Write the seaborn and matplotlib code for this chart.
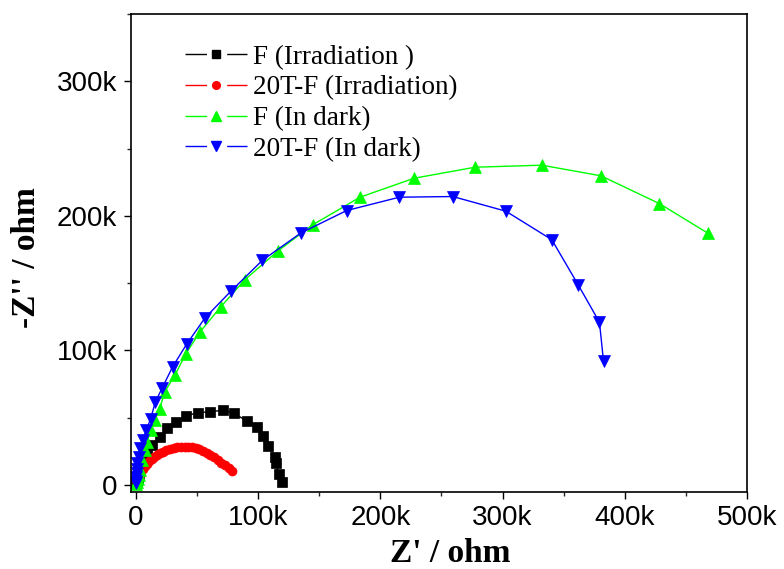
import matplotlib
matplotlib.use("Agg")
import matplotlib.pyplot as plt
from matplotlib.lines import Line2D
from matplotlib.ticker import FuncFormatter, MultipleLocator
import seaborn as sns
import numpy as np

# Data (k-ohm)
f_irr_x = [0.3, 0.8, 1.5, 2.5, 3.5, 4.5, 5.8, 7.1, 9.3, 13.1, 19.4, 25.6, 33.0, 41.2, 50.8, 60.6,
           71.5, 80.5, 90.6, 98.8, 103.7, 108.3, 113.8, 114.6, 116.8, 119.3]
f_irr_y = [0.5, 2.5, 5.0, 8.0, 11.0, 14.0, 17.5, 21.3, 24.5, 29.4, 35.6, 41.9, 46.8, 51.2, 53.7, 54.2,
           55.5, 53.0, 47.5, 43.1, 36.4, 29.0, 20.8, 15.9, 7.7, 2.2]

t20_irr_x = [0.5, 1, 1.5, 2.5, 3.5, 4.5, 6, 7.5, 9, 11, 13, 15, 17.5, 20, 22.5, 25, 28, 31, 34, 37,
             40, 43, 46, 49, 52, 55, 58, 61, 64, 67, 70, 73, 76, 79]
t20_irr_y = [0.5, 2, 4, 6, 8, 10, 12, 14, 15.5, 17.5, 19, 20.5, 22, 23.5, 24.5, 25.5, 26.5, 27.3,
             27.8, 28.2, 28.3, 28.2, 27.8, 27.2, 26.3, 25.2, 23.8, 22.2, 20.5, 18.5, 16.5, 14.5,
             12.5, 10.5]

f_dark_x = [0.3, 0.8, 1.6, 2.2, 3.0, 4.9, 7.1, 9.3, 12.0, 15.3, 19.4, 23.5, 31.9, 40.9, 52.4, 69.3,
            89.2, 116.0, 144.7, 183.4, 227.6, 277.6, 332.2, 380.5, 428.2, 468.3]
f_dark_y = [0.5, 2, 4, 7, 10.9, 18.3, 25.8, 31.9, 40.6, 48.0, 56.2, 69.0, 81.4, 97.5, 113.6, 132.1,
            152.5, 173.7, 193.3, 213.8, 227.9, 236.1, 237.6, 229.7, 209.1, 186.9]

t20_dark_x = [0.1, 0.2, 0.3, 0.5, 0.8, 1.3, 2.2, 3.6, 5.7, 8.4, 12.0, 15.8, 21.5, 30.0, 41.5, 56.5,
              77.8, 103.4, 134.8, 172.5, 215.6, 259.3, 302.7, 340.3, 362.1, 379.3, 382.6]
t20_dark_y = [1, 3, 5.5, 8.5, 12, 16, 21, 27, 33.2, 40.6, 48.8, 61.2, 72.0, 87.6, 104.5, 124.0,
              144.0, 166.8, 187.1, 203.9, 213.8, 214.3, 203.4, 182.2, 148.3, 120.8, 91.8]

labels = ["F (Irradiation )", "20T-F (Irradiation)", "F (In dark)", "20T-F (In dark)"]
x_ticks = [0, 100, 200, 300, 400, 500]
y_ticks = [0, 100, 200, 300]

sns.set_theme(style="ticks")
plt.rcParams['font.family'] = ['Liberation Sans', 'DejaVu Sans']
plt.rcParams['text.color'] = 'black'
plt.rcParams['axes.labelcolor'] = 'black'

fig = plt.figure(figsize=(7.84, 5.69), dpi=100)
ax = fig.add_axes([131 / 784, 1 - 491.5 / 569, 616 / 784, 477.5 / 569])

series = [
    (f_irr_x, f_irr_y, "#000000", "s", 6.5),
    (t20_irr_x, t20_irr_y, "#ff0000", "o", 6.5),
    (f_dark_x, f_dark_y, "#00ff00", "^", 8.5),
    (t20_dark_x, t20_dark_y, "#0000ff", "v", 8.5),
]
handles = []
for (xs, ys, c, m, ms), lab in zip(series, labels):
    sns.lineplot(x=np.array(xs) * 1000, y=np.array(ys) * 1000, sort=False, estimator=None,
                 color=c, marker=m, markersize=ms, markeredgecolor=c, markeredgewidth=0.5,
                 linewidth=1.0, ax=ax, legend=False)
    handles.append(Line2D([], [], color=c, marker=m, markersize=ms * 0.85, markeredgecolor=c,
                          linewidth=1.0, linestyle=(0, (15.5, 14.5, 15.5, 60))))

ax.set_xlim(-4000, 500000)
ax.set_ylim(-5000, 350000)
ax.set_xticks([v * 1000 for v in x_ticks])
ax.set_yticks([v * 1000 for v in y_ticks])
fmt = FuncFormatter(lambda v, p: "0" if abs(v) < 1 else f"{int(round(v / 1000))}k")
ax.xaxis.set_major_formatter(fmt)
ax.yaxis.set_major_formatter(fmt)
ax.xaxis.set_minor_locator(MultipleLocator(50000))
ax.yaxis.set_minor_locator(MultipleLocator(50000))
ax.tick_params(which="major", direction="out", length=5, width=1.0, labelsize=20, pad=5,
               top=False, right=False, colors="black")
ax.tick_params(which="minor", direction="out", length=3, width=1.0, top=False, right=False)
for s in ax.spines.values():
    s.set_linewidth(1.2)
    s.set_color("black")
    s.set_visible(True)

ax.set_xlabel("Z' / ohm", fontsize=24, fontweight="bold", family=["Liberation Serif"])
ax.set_ylabel("-Z'' / ohm", fontsize=24, fontweight="bold", family=["Liberation Serif"])
ax.xaxis.set_label_coords(0.518, -0.097)
ax.yaxis.set_label_coords(-0.145, 0.49)

leg = ax.legend(handles=handles, labels=labels, loc="upper left", bbox_to_anchor=(0.052, 0.981),
                frameon=False, handlelength=2.3, handletextpad=0.22, labelspacing=0.21,
                borderpad=0.3, prop={"family": "Liberation Serif", "size": 19.5})
for t in leg.get_texts():
    t.set_color("black")

fig.savefig("out.png", dpi=100)
